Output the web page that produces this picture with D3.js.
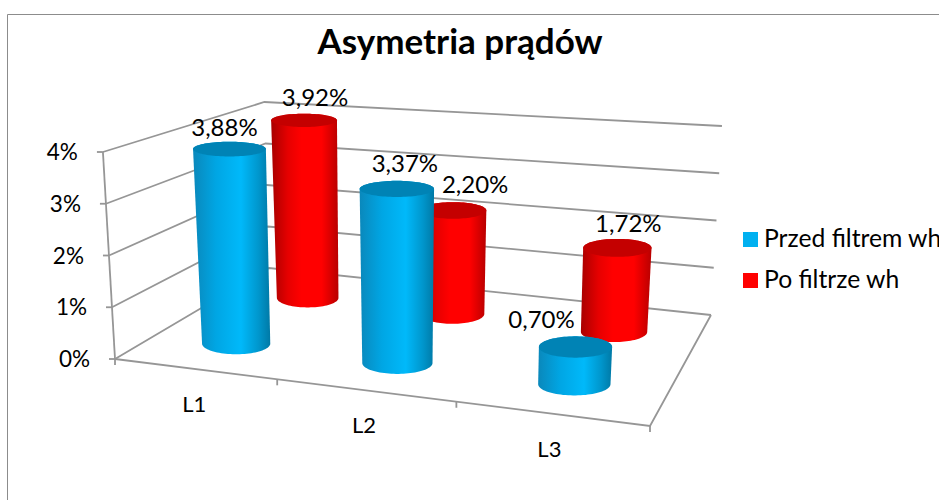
<!DOCTYPE html>
<html><head><meta charset="utf-8">
<script src="https://cdn.jsdelivr.net/npm/d3@7"></script>
<style>html,body{margin:0;padding:0;background:#fff;overflow:hidden}svg{display:block;font-family:Lato,"Open Sans",sans-serif}</style>
</head><body><svg id="c" width="939" height="500"></svg>
<script>
const titleText = "Asymetria prądów";
const categories = ["L1", "L2", "L3"];
const seriesNames = ["Przed filtrem wh", "Po filtrze wh"];
const przedFiltrem = [3.88, 3.37, 0.70];
const poFiltrze = [3.92, 2.20, 1.72];
const valueTicks = [0, 1, 2, 3, 4];
const seriesColors = ["#00b0f0", "#ff0000"];

// 3D box layout: floor corners on screen and wall height at each corner
const floorQuad = [[115,359],[650,426],[711,315],[269,268]];
const cornerHeights = [207,224,189,166];
const vanishX = 413, vanishY = 5466;
const W = 939, H = 500;

function quadMap(q){
  const [[x0,y0],[x1,y1],[x2,y2],[x3,y3]] = q;
  const dx1=x1-x2, dx2=x3-x2, dx3=x0-x1+x2-x3, dy1=y1-y2, dy2=y3-y2, dy3=y0-y1+y2-y3;
  const den=dx1*dy2-dx2*dy1, g=(dx3*dy2-dx2*dy3)/den, h=(dx1*dy3-dx3*dy1)/den;
  const a=x1-x0+g*x1, b=x3-x0+h*x3, d=y1-y0+g*y1, e=y3-y0+h*y3;
  return (u,v)=>{const k=g*u+h*v+1; return [(a*u+b*v+x0)/k,(d*u+e*v+y0)/k];};
}
const onFloor = quadMap(floorQuad);
const uWarp = d3.scalePow().exponent(1.03).domain([0,1]).range([0,1]);
const uScale = d3.scaleBand().domain(categories).range([0,1]);
const vScale = d3.scalePoint().domain(seriesNames).range([0.235,0.725]);
const wScale = d3.scaleLinear().domain([0,4]).range([0,1]);
const barNudge = [[0.009,0.003,0.002],[0.015,0.003,0.004]];
function localHeight(u,v){
  const [a,b,c,d]=cornerHeights;
  return (a*(1-u)+b*u)*(1-v)+(d*(1-u)+c*u)*v;
}
function project(u,v,val){
  const p=onFloor(uWarp(u),v), h=localHeight(u,v)*wScale(val);
  return [p[0]+(p[0]-vanishX)*h/(vanishY-p[1]), p[1]-h];
}

const svg = d3.select("#c");
const defs = svg.append("defs");
const gradStops = [
  [[0,"#0a88bb"],[0.3,"#00a6e4"],[0.62,"#00b9fa"],[0.85,"#0096cc"],[1,"#0079a6"]],
  [[0,"#a80000"],[0.25,"#e60000"],[0.45,"#ff0000"],[0.75,"#ff0000"],[1,"#b80000"]]
];
const capColors = ["#0083b5","#c40000"];
gradStops.forEach((st,i)=>{
  const g=defs.append("linearGradient").attr("id","g"+i);
  st.forEach(s=>g.append("stop").attr("offset",s[0]).attr("stop-color",s[1]));
});

// chart frame
svg.append("path").attr("d",`M7.5,${H} V14.5 H${W}`).attr("fill","none").attr("stroke","#8c8c8c").attr("stroke-width",1);

const line = d3.line();
const gGrid = svg.append("g").attr("fill","none").attr("stroke","#969696").attr("stroke-width",1.8);
valueTicks.forEach(t=>{
  gGrid.append("path").attr("d",line([project(0,0,t),project(0,1,t),project(1,1,t)]));
  const p=project(0,0,t);
  gGrid.append("path").attr("d",line([[p[0]-6,p[1]],p]));
  svg.append("text").attr("x",p[0]-25).attr("y",p[1]+8).attr("text-anchor","end")
    .attr("font-size",22.5).attr("fill","#000").text(t+"%");
});
gGrid.append("path").attr("d",line([project(0,0,0),project(0,0,4)]));
gGrid.append("path").attr("d",line([project(0,0,0),project(1,0,0),project(1,1,0)]));
[0,1/3,2/3,1].forEach(u=>{
  const p=project(u,0,0);
  gGrid.append("path").attr("d",line([p,[p[0],p[1]+6]]));
});

// category labels
const catOffsets=[[1,43],[-1,43],[-2,43]];
categories.forEach((c,i)=>{
  const p=project(uScale(c)+uScale.bandwidth()/2,0,0);
  svg.append("text").attr("x",p[0]+catOffsets[i][0]).attr("y",p[1]+catOffsets[i][1])
    .attr("text-anchor","middle").attr("font-size",22).attr("fill","#000").text(c);
});

// cylinders, back series first
const radiusRatio=0.17;
const tiltAt=w=>0.31-0.11*w;
const angles=d3.range(0,360,4).map(d=>d*Math.PI/180);
const closed=d3.line().curve(d3.curveLinearClosed);
const seriesValues=[przedFiltrem,poFiltrze];
const barU=(si,ci)=>uScale(categories[ci])+uScale.bandwidth()/2+barNudge[si][ci];
[1,0].forEach(si=>{
  categories.forEach((c,ci)=>{
    const uc=barU(si,ci), vc=vScale(seriesNames[si]), val=seriesValues[si][ci];
    const ring=v=>{
      const ctr=project(uc,vc,v), w=wScale(v), rx=radiusRatio*localHeight(uc,vc)*(1+0.07*w), ry=rx*tiltAt(w);
      return angles.map(a=>[ctr[0]+rx*Math.cos(a),ctr[1]+ry*Math.sin(a)]);
    };
    const top=ring(val), bot=ring(0);
    svg.append("path").attr("d",closed(d3.polygonHull(top.concat(bot)))).attr("fill",`url(#g${si})`);
    svg.append("path").attr("d",closed(top)).attr("fill",capColors[si]);
  });
});

// value labels
const labelOffsets=[[[-5,-13],[8,-17],[-34,-19]],[[11,-14],[22,-17],[11,-16]]];
const fmt=v=>v.toFixed(2).replace(".",",")+"%";
seriesValues.forEach((vals,si)=>vals.forEach((val,ci)=>{
  const p=project(barU(si,ci),vScale(seriesNames[si]),val), o=labelOffsets[si][ci];
  svg.append("text").attr("x",p[0]+o[0]).attr("y",p[1]+o[1]).attr("text-anchor","middle")
    .attr("font-size",24).attr("fill","#000").text(fmt(val));
}));

// title
svg.append("text").attr("x",460).attr("y",54).attr("text-anchor","middle")
  .attr("font-size",35).attr("font-weight",700).attr("fill","#000").text(titleText);

// legend
seriesNames.forEach((s,i)=>{
  const y=232+i*41;
  svg.append("rect").attr("x",743).attr("y",y).attr("width",15).attr("height",15).attr("fill",seriesColors[i]);
  svg.append("text").attr("x",764).attr("y",y+15).attr("font-size",24.7).attr("fill","#000").text(s);
});
</script></body></html>
